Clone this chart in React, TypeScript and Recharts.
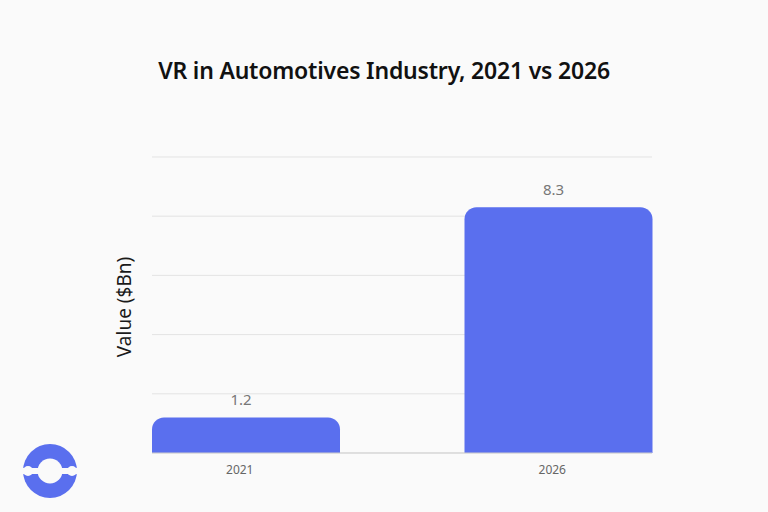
import { Bar, BarChart, CartesianGrid, LabelList, XAxis, YAxis } from "recharts";

const years = ["2021", "2026"];
const values = [1.2, 8.3];
const yTicks = [0, 2, 4, 6, 8, 10];

const data = years.map((year, i) => ({ year, value: values[i] }));

const FONT = "'Noto Sans', Inter, sans-serif";
const BAR_COLOR = "#5a6fee";

function Logo() {
  return (
    <svg
      width={60}
      height={60}
      viewBox="0 0 60 60"
      style={{ position: "absolute", left: 20, top: 441 }}
    >
      <circle cx={30} cy={30} r={27} fill={BAR_COLOR} />
      <circle cx={30} cy={30} r={12.5} fill="#fafafa" />
      <rect x={2} y={27} width={56} height={6} fill="#fafafa" />
      <circle cx={8} cy={30} r={5} fill="#fafafa" />
      <circle cx={52} cy={30} r={5} fill="#fafafa" />
    </svg>
  );
}

export default function App() {
  return (
    <div
      style={{
        position: "relative",
        width: 768,
        height: 512,
        background: "#fafafa",
        fontFamily: FONT,
        overflow: "hidden",
      }}
    >
      <style>{"body{margin:0}"}</style>
      <div
        style={{
          position: "absolute",
          top: 54,
          left: 0,
          width: 768,
          textAlign: "center",
          fontSize: 23,
          fontWeight: 600,
          color: "#111",
          letterSpacing: -0.2,
        }}
      >
        VR in Automotives Industry, 2021 vs 2026
      </div>
      <div
        style={{
          position: "absolute",
          left: 124,
          top: 307,
          transform: "translate(-50%, -50%) rotate(-90deg)",
          whiteSpace: "nowrap",
          fontSize: 19,
          color: "#1a1a1a",
        }}
      >
        Value ($Bn)
      </div>
      <div style={{ position: "absolute", left: 0, top: 0 }}>
        <BarChart
          width={768}
          height={512}
          data={data}
          margin={{ top: 157, right: 116, bottom: 29, left: 152 }}
          barCategoryGap="20%"
        >
          <CartesianGrid vertical={false} stroke="#e3e3e3" />
          <XAxis
            dataKey="year"
            height={30}
            padding={{ left: -62.5, right: -62.5 }}
            axisLine={{ stroke: "#cfcfcf" }}
            tickLine={false}
            tick={{ fill: "#666", fontSize: 12, fontFamily: FONT, dx: -6 }}
            tickMargin={6}
          />
          <YAxis hide domain={[0, 10]} ticks={yTicks} />
          <Bar
            dataKey="value"
            fill={BAR_COLOR}
            radius={[12, 12, 0, 0]}
            isAnimationActive={false}
          >
            <LabelList
              dataKey="value"
              position="top"
              offset={12}
              fill="#777"
              fontSize={15}
              fontFamily={FONT}
              dx={-5}
            />
          </Bar>
        </BarChart>
      </div>
      <Logo />
    </div>
  );
}
